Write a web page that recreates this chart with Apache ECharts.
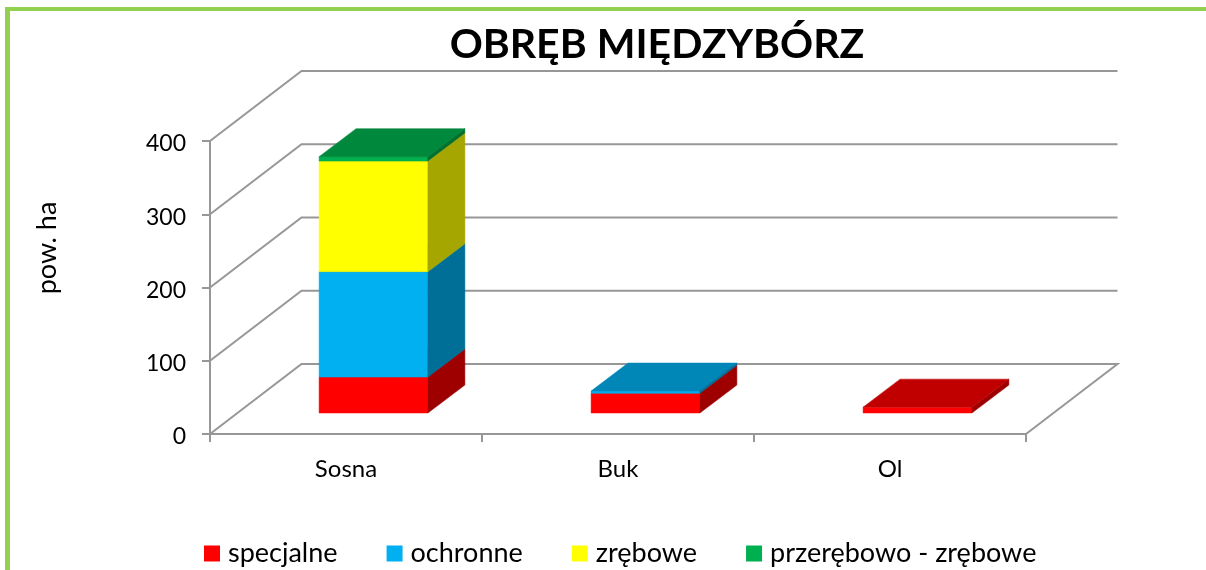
<!DOCTYPE html>
<html>
<head>
<meta charset="utf-8">
<style>html,body{margin:0;padding:0;background:#fff}#c{width:1206px;height:570px}</style>
<script src="https://cdn.jsdelivr.net/npm/echarts@6/dist/echarts.min.js"></script>
</head>
<body>
<div id="c"></div>
<script>
const categories = ['Sosna', 'Buk', 'Ol'];
const specjalne = [49, 27, 8];
const ochronne = [144, 3, 0];
const zrebowe = [151, 0, 0];
const przerebowo = [6, 0, 0];
const yTicks = [0, 100, 200, 300, 400];
const seriesNames = ['specjalne', 'ochronne', 'zrębowe', 'przerębowo - zrębowe'];
const seriesValues = [specjalne, ochronne, zrebowe, przerebowo];
const faceColors = [
  {front: '#FF0000', side: '#9E0000', top: '#C00000'},
  {front: '#00B0F0', side: '#006F97', top: '#0087B8'},
  {front: '#FFFF00', side: '#A6A600', top: '#C4C400'},
  {front: '#00B050', side: '#006F32', top: '#00883D'}
];
const FONT = 'Lato';
const GRAY = '#979797';
const WALL_DX = 91.5, WALL_DY = -70;
const BAR_SHIFT_X = 27.5, BAR_SHIFT_Y = -21, BAR_DX = 37, BAR_DY = -28;

function poly(points, fill) {
  return {type: 'polygon', shape: {points}, style: {fill, stroke: fill, lineWidth: 0.5}};
}
function renderBar(faces) {
  return function (params, api) {
    const from = api.value(1), to = api.value(2);
    if (to <= from) return null;
    const w = api.size([1, 0])[0] * 0.4;
    const b = api.coord([api.value(0), from]);
    const t = api.coord([api.value(0), to]);
    const x0 = b[0] - w / 2 + BAR_SHIFT_X, x1 = x0 + w;
    const yb = b[1] + BAR_SHIFT_Y, yt = t[1] + BAR_SHIFT_Y;
    return {type: 'group', children: [
      poly([[x0, yb], [x1, yb], [x1, yt], [x0, yt]], faces.front),
      poly([[x1, yb], [x1 + BAR_DX, yb + BAR_DY], [x1 + BAR_DX, yt + BAR_DY], [x1, yt]], faces.side),
      poly([[x0, yt], [x1, yt], [x1 + BAR_DX, yt + BAR_DY], [x0 + BAR_DX, yt + BAR_DY]], faces.top)
    ]};
  };
}
function renderWall(params, api) {
  const rect = params.coordSys;
  const y = api.coord([0, api.value(0)])[1];
  const x0 = rect.x, xb = rect.x + WALL_DX, xe = rect.x + rect.width + WALL_DX, yb = y + WALL_DY;
  const pts = [[x0, y], [xb, yb], [xe, yb]];
  if (api.value(0) === 0) pts.push([rect.x + rect.width, y]);
  return {type: 'polyline', shape: {points: pts}, style: {fill: null, stroke: GRAY, lineWidth: 2}};
}
const cumulative = categories.map(() => 0);
const barSeries = seriesNames.map((name, s) => ({
  name,
  type: 'custom',
  renderItem: renderBar(faceColors[s]),
  itemStyle: {color: faceColors[s].front},
  encode: {x: 0, y: [1, 2]},
  z: 3 + s,
  data: seriesValues[s].map((v, i) => {
    const from = cumulative[i];
    cumulative[i] += v;
    return [i, from, cumulative[i]];
  })
}));
const option = {
  animation: false,
  backgroundColor: '#fff',
  title: {
    text: 'OBRĘB MIĘDZYBÓRZ', left: 652, top: 19, textAlign: 'center',
    textStyle: {fontFamily: FONT, fontWeight: 'bold', fontSize: 41, color: '#000'}
  },
  legend: {
    data: seriesNames, left: 199, top: 535, itemWidth: 16, itemHeight: 16, itemGap: 49,
    icon: 'rect',
    textStyle: {fontFamily: FONT, fontSize: 27, color: '#000', padding: [0, 0, 0, 3]}
  },
  grid: {left: 210, top: 141, width: 816, height: 293},
  xAxis: {
    type: 'category', data: categories, boundaryGap: true,
    axisLine: {lineStyle: {color: GRAY, width: 2}},
    axisTick: {show: true, alignWithLabel: false, length: 8, lineStyle: {color: GRAY, width: 2}},
    axisLabel: {fontFamily: FONT, fontSize: 24, color: '#000', margin: 23},
    splitLine: {show: false}
  },
  yAxis: {
    type: 'value', min: 0, max: 400, interval: 100,
    axisLine: {show: true, lineStyle: {color: GRAY, width: 2}},
    axisTick: {show: true, length: 8, lineStyle: {color: GRAY, width: 2}},
    axisLabel: {
      margin: 24, formatter: '{t|{value}}',
      rich: {t: {fontFamily: FONT, fontSize: 23, color: '#000', padding: [6, 0, 0, 0]}}
    },
    splitLine: {show: false}
  },
  graphic: [
    {type: 'rect', shape: {x: 5, y: 7, width: 1201, height: 4}, style: {fill: '#92D050'}, z: 0},
    {type: 'rect', shape: {x: 5, y: 7, width: 5, height: 563}, style: {fill: '#92D050'}, z: 0},
    {type: 'text', x: 47, y: 248, rotation: Math.PI / 2, style: {
      text: 'pow. ha', fontFamily: FONT, fontSize: 27, fill: '#000', align: 'center', verticalAlign: 'middle'
    }}
  ],
  series: [{
    type: 'custom', name: 'walls', renderItem: renderWall, silent: true, z: 1,
    encode: {y: 0}, coordinateSystem: 'cartesian2d',
    data: yTicks.map(v => [v])
  }].concat(barSeries)
};
echarts.init(document.getElementById('c'), null, {renderer: 'canvas'}).setOption(option);
</script>
</body>
</html>
